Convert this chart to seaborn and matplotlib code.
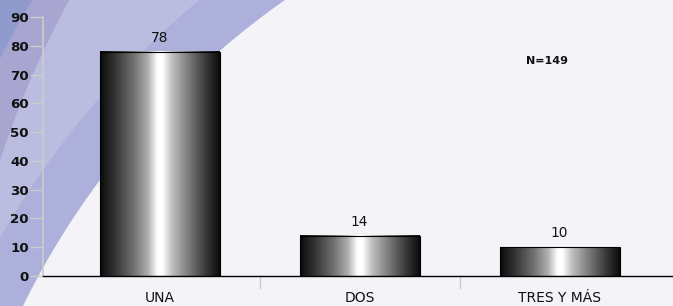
import numpy as np
import matplotlib
matplotlib.use("Agg")
import matplotlib.pyplot as plt
from matplotlib.colors import LinearSegmentedColormap
from matplotlib.patches import Circle, Rectangle
import seaborn as sns

categories = ["UNA", "DOS", "TRES Y MÁS"]
values = [78, 14, 10]
y_ticks = [0, 10, 20, 30, 40, 50, 60, 70, 80, 90]
note = "N=149"

sns.set_theme(style="white")
plt.rcParams['font.family'] = ['DejaVu Sans']

W, H = 673, 306
fig = plt.figure(figsize=(W / 100, H / 100), dpi=100)
fig.patch.set_facecolor("#f3f3f8")

# decorative background swoosh
bg = fig.add_axes([0, 0, 1, 1], zorder=0)
bg.set_xlim(0, W)
bg.set_ylim(H, 0)
bg.axis("off")
bg.add_patch(Rectangle((0, 0), W, H, color="#8e9bcc", zorder=0))


def circle_through(p1, p2, r):
    p1 = np.array(p1, float)
    p2 = np.array(p2, float)
    m = (p1 + p2) / 2
    d = np.linalg.norm(p2 - p1) / 2
    v = (p2 - p1) / (2 * d)
    n = np.array([abs(v[1]), abs(v[0])])
    h = np.sqrt(r * r - d * d)
    return m + n * h


c2 = circle_through((33, 0), (0, 60), 950)
c3 = circle_through((70, 0), (15, 120), 950)
bg.add_patch(Circle(c2, 950, color="#a8a5d1", zorder=1))
bg.add_patch(Circle(c3, 950, color="#bbbde0", zorder=2))
bg.add_patch(Circle((752, 665), 864, color="#adb0da", zorder=3))
bg.add_patch(Circle((752, 665), 812, color="#f3f3f8", zorder=4))

# main axes
ax = fig.add_axes([43 / W, 30 / H, 630 / W, 259 / H], zorder=1)
ax.set_facecolor("none")

sns.barplot(x=categories, y=values, ax=ax, width=0.6, color="#888888",
            edgecolor="black", linewidth=0.8, zorder=3)

cmap = LinearSegmentedColormap.from_list("metal", [
    (0.0, "#0a0a0a"), (0.12, "#333333"), (0.28, "#707070"), (0.40, "#b0b0b0"),
    (0.48, "#ffffff"), (0.52, "#ffffff"), (0.60, "#c0c0c0"), (0.72, "#858585"),
    (0.86, "#444444"), (1.0, "#0a0a0a")])
grad = np.linspace(0, 1, 256).reshape(1, -1)

xlim = (-0.5825, 2.5675)
ylim = (0, 90)
for p, v in zip(ax.patches, values):
    x0, w, h = p.get_x(), p.get_width(), p.get_height()
    p.set_facecolor("none")
    ax.imshow(grad, cmap=cmap, extent=(x0, x0 + w, 0, h), aspect="auto",
              zorder=2, interpolation="bicubic")
    ax.annotate(f"{v}", (x0 + w / 2, h), xytext=(0, 10), textcoords="offset points",
                ha="center", va="center", fontsize=9.9, color="#111111")

ax.set_xlim(*xlim)
ax.set_ylim(*ylim)
ax.set_yticks(y_ticks)
ax.set_yticklabels([str(t) for t in y_ticks], fontweight="bold")
ax.set_xlabel("")
ax.set_ylabel("")

for s in ["top", "right"]:
    ax.spines[s].set_visible(False)
ax.spines["left"].set_color("#cccccc")
ax.spines["left"].set_linewidth(1.2)
ax.spines["bottom"].set_color("black")
ax.spines["bottom"].set_linewidth(1.0)
ax.spines["bottom"].set_zorder(4)

ax.tick_params(axis="y", which="major", direction="out", length=9.4, width=1,
               color="#cccccc", labelsize=9.6, pad=0.7, labelcolor="#111111", left=True)
ax.set_xticks([0.5, 1.5], minor=True)
ax.tick_params(axis="x", which="major", length=0, pad=10.5, labelsize=10,
               labelcolor="#111111", bottom=True)
ax.tick_params(axis="x", which="minor", direction="out", length=9, width=1,
               color="#cccccc", bottom=True)

ax.text(0.8, 0.83, note, transform=ax.transAxes, ha="center", va="center",
        fontsize=8, fontweight="bold", color="#111111")

fig.savefig("out.png", dpi=100, facecolor=fig.get_facecolor())
